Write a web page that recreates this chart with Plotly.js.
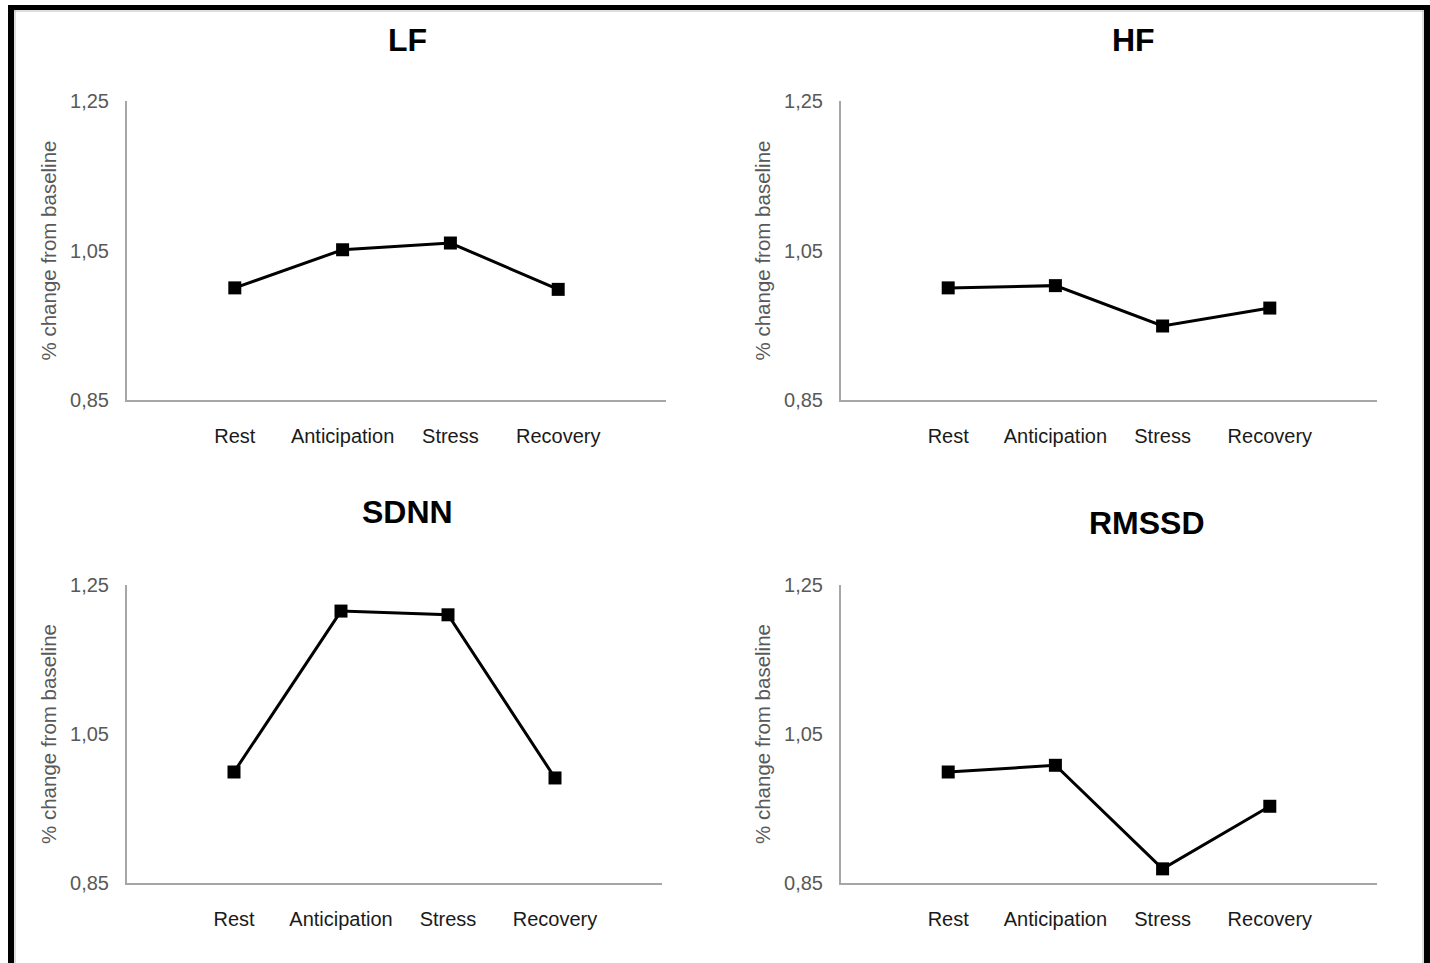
<!DOCTYPE html>
<html>
<head>
<meta charset="utf-8">
<script src="https://cdn.plot.ly/plotly-3.0.1.min.js"></script>
<style>
  html, body { margin: 0; padding: 0; background: #ffffff; }
  #chart { width: 1430px; height: 963px; }
</style>
</head>
<body>
<div id="chart"></div>
<script>
// ---- data ----
const categories = ["Rest", "Anticipation", "Stress", "Recovery"];
const lfValues    = [1.000, 1.051, 1.060, 0.998];
const hfValues    = [1.000, 1.003, 0.949, 0.973];
const sdnnValues  = [0.999, 1.215, 1.210, 0.991];
const rmssdValues = [0.999, 1.008, 0.869, 0.953];
const panelTitles = ["LF", "HF", "SDNN", "RMSSD"];
const yTickVals   = [0.85, 1.05, 1.25];
const yTickText   = ["0,85", "1,05", "1,25"];
const yAxisTitle  = "% change from baseline";

const W = 1430, H = 963;
const px = v => v / W;
const py = v => 1 - v / H;

const seriesList = [lfValues, hfValues, sdnnValues, rmssdValues];
const traces = seriesList.map((vals, i) => ({
  type: "scatter",
  mode: "lines+markers",
  x: categories,
  y: vals,
  xaxis: i === 0 ? "x" : "x" + (i + 1),
  yaxis: i === 0 ? "y" : "y" + (i + 1),
  line: { color: "#000000", width: 3 },
  marker: { symbol: "square", size: 13, color: "#000000" },
  showlegend: false,
  hoverinfo: "x+y"
}));

const fontFam = "Liberation Sans, Arial, sans-serif";

function xAxis(domain, anchor) {
  return {
    domain: domain, anchor: anchor,
    type: "category", range: [-1, 4],
    showgrid: false, zeroline: false,
    showline: true, linecolor: "#a6a6a6", linewidth: 2,
    ticks: "", ticklabelstandoff: 17,
    tickfont: { family: fontFam, size: 20, color: "#1a1a1a" },
    fixedrange: true
  };
}
function yAxis(domain, anchor) {
  return {
    domain: domain, anchor: anchor,
    range: [0.85, 1.25],
    showgrid: false, zeroline: false,
    showline: true, linecolor: "#a6a6a6", linewidth: 2,
    ticks: "", ticklabelstandoff: 12,
    tickvals: yTickVals, ticktext: yTickText,
    tickfont: { family: fontFam, size: 20, color: "#595959" },
    title: { text: yAxisTitle, font: { family: fontFam, size: 20.5, color: "#595959" }, standoff: 8 },
    fixedrange: true
  };
}

const topY = [py(400), py(101)];
const botY = [py(883), py(585)];

const layout = {
  width: W, height: H,
  margin: { l: 0, r: 0, t: 0, b: 0 },
  paper_bgcolor: "#ffffff", plot_bgcolor: "#ffffff",
  font: { family: fontFam },
  xaxis:  xAxis([px(127), px(666)], "y"),
  yaxis:  yAxis(topY, "x"),
  xaxis2: xAxis([px(841), px(1377)], "y2"),
  yaxis2: yAxis(topY, "x2"),
  xaxis3: xAxis([px(127), px(662)], "y3"),
  yaxis3: yAxis(botY, "x3"),
  xaxis4: xAxis([px(841), px(1377)], "y4"),
  yaxis4: yAxis(botY, "x4"),
  annotations: [
    { text: "<b>" + panelTitles[0] + "</b>", x: px(407),  y: py(40) },
    { text: "<b>" + panelTitles[1] + "</b>", x: px(1133), y: py(40) },
    { text: "<b>" + panelTitles[2] + "</b>", x: px(407),  y: py(512) },
    { text: "<b>" + panelTitles[3] + "</b>", x: px(1147), y: py(523) }
  ].map(a => Object.assign(a, {
    xref: "paper", yref: "paper", xanchor: "center", yanchor: "middle",
    showarrow: false, font: { family: fontFam, size: 32, color: "#000000" }
  })),
  shapes: [
    { type: "rect", xref: "paper", yref: "paper", x0: px(8), x1: px(14), y0: 0, y1: py(5), fillcolor: "#000", line: { width: 0 } },
    { type: "rect", xref: "paper", yref: "paper", x0: px(8), x1: 1, y0: py(10), y1: py(5), fillcolor: "#000", line: { width: 0 } },
    { type: "rect", xref: "paper", yref: "paper", x0: px(1424), x1: 1, y0: 0, y1: py(5), fillcolor: "#000", line: { width: 0 } },
    { type: "line", xref: "paper", yref: "paper", x0: px(15), x1: px(15), y0: 0, y1: py(10), line: { color: "#bdbdbd", width: 1 } },
    { type: "line", xref: "paper", yref: "paper", x0: px(14), x1: px(1424), y0: py(11), y1: py(11), line: { color: "#bdbdbd", width: 1 } },
    { type: "line", xref: "paper", yref: "paper", x0: px(1423), x1: px(1423), y0: 0, y1: py(10), line: { color: "#bdbdbd", width: 1 } }
  ]
};

Plotly.newPlot("chart", traces, layout, { displayModeBar: false, staticPlot: false });
</script>
</body>
</html>
